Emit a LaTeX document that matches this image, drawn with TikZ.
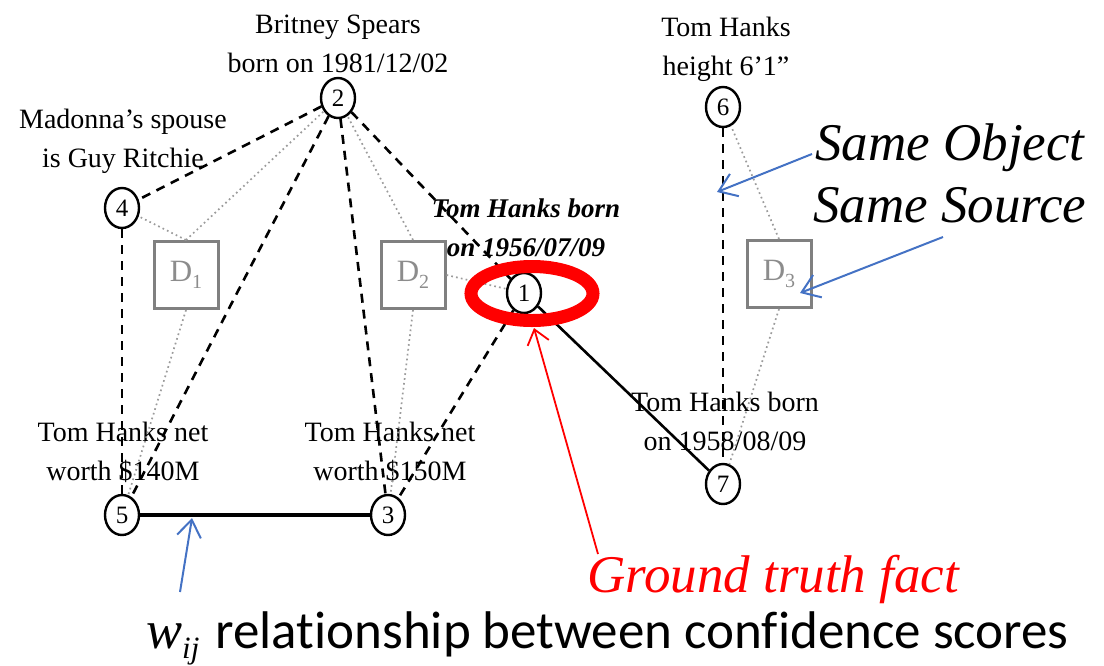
\documentclass[tikz,border=0pt]{standalone}
\usepackage{fontspec}
\setmainfont{Liberation Serif}
\newfontfamily\calib[Ligatures=NoCommon]{Carlito}
\usetikzlibrary{shapes.geometric,arrows.meta}
\definecolor{srcgray}{RGB}{128,128,128}
\definecolor{dotgray}{RGB}{155,155,155}
\definecolor{dtext}{RGB}{140,140,140}
\definecolor{noteblue}{RGB}{68,114,196}
\definecolor{truthred}{RGB}{255,0,0}
\begin{document}
\begin{tikzpicture}[x=1pt,y=-1pt,
  fact/.style={ellipse,draw,line width=2.4pt,minimum width=34pt,minimum height=40pt,inner sep=0pt,font=\fontsize{25}{25}\selectfont},
  src/.style={rectangle,draw=srcgray,line width=3pt,minimum width=64pt,minimum height=67pt,inner sep=0pt,text=dtext,font=\fontsize{31}{31}\selectfont},
  lbl/.style={align=center,font=\fontsize{28}{38.5}\selectfont,inner sep=0pt,anchor=base},
  rel/.style={line width=2.6pt,dash pattern=on 9pt off 7pt},
  prov/.style={draw=dotgray,line width=1.7pt,dash pattern=on 1.7pt off 3.2pt},
  strong/.style={line width=2.6pt},
  stronger/.style={line width=3.6pt},
  note/.style={draw=noteblue,line width=2pt,-{Straight Barb[length=17pt,width=24pt,line width=2pt]}},
  truth/.style={draw=truthred,line width=1.8pt,-{Straight Barb[length=14pt,width=22pt,line width=1.8pt]}},
  bigit/.style={font=\fontsize{53}{53}\selectfont\itshape,inner sep=0pt,anchor=base west}
]
\useasboundingbox (0,0) rectangle (1104,665);

% fact nodes
\node[fact] (n2) at (338,98) {2};
\node[fact] (n4) at (122,208) {4};
\node[fact] (n1) at (524,293) {1};
\node[fact] (n6) at (723,107) {6};
\node[fact] (n7) at (723,484) {7};
\node[fact] (n5) at (122,515) {5};
\node[fact] (n3) at (388,515) {3};

% source boxes
\node[src] (d1) at (186,275) {D\raisebox{-7pt}{\fontsize{20}{20}\selectfont 1}};
\node[src] (d2) at (413,275) {D\raisebox{-7pt}{\fontsize{20}{20}\selectfont 2}};
\node[src] (d3) at (779,274) {D\raisebox{-7pt}{\fontsize{20}{20}\selectfont 3}};

% labels (anchor = baseline of the last line)
\node[lbl] (l2) at (338,72) {Britney Spears\\born on 1981/12/02};
\node[lbl] (l4) at (123,167) {Madonna’s spouse\\is Guy Ritchie};
\node[lbl,font=\fontsize{27}{38.5}\selectfont\bfseries\itshape] (l1) at (526,256) {Tom Hanks born\\on 1956/07/09};
\node[lbl] (l6) at (726,75) {Tom Hanks\\height 6’1”};
\node[lbl] (l5) at (123,480) {Tom Hanks net\\worth \$140M};
\node[lbl] (l3) at (390,480) {Tom Hanks net\\worth \$150M};
\node[lbl] (l7) at (725,450) {Tom Hanks born\\on 1958/08/09};

% provenance (dotted) links
\draw[prov] (d1.north) -- (n4);
\draw[prov] (d1.north) -- (n2);
\draw[prov] (d1.south) -- (n5);
\draw[prov] (d2.north) -- (n2);
\draw[prov] (d2.east) -- (n1);
\draw[prov] (d2.south) -- (n3);
\draw[prov] (d3.north) -- (n6);
\draw[prov] (d3.south) -- (n7);

% dashed relations
\draw[rel] (n2) -- (n4);
\draw[rel] (n2) -- (n5);
\draw[rel] (n2) -- (n3);
\draw[rel] (n2) -- (n1);
\draw[rel] (n4) -- (n5);
\draw[rel] (n1) -- (n3);
\draw[rel] (n6) -- (n7);

% solid relations
\draw[strong] (n1) -- (n7);
\draw[stronger] (n5) -- (n3);

% ground truth ellipse
\draw[truthred,line width=13pt] (532,293.5) ellipse [x radius=61,y radius=27];

% annotations
\node[bigit] (so) at (815,160) {Same Object};
\node[bigit] (ss) at (813,222) {Same Source};
\coordinate (soTail) at (812,154);
\coordinate (soTip) at (717,192);
\coordinate (ssTail) at (943,237);
\coordinate (ssTip) at (800,293);
\draw[note] (soTail) -- (soTip);
\draw[note] (ssTail) -- (ssTip);

\node[bigit,text=truthred] (gt) at (587,592) {Ground truth fact};
\coordinate (gtTail) at (598,554);
\coordinate (gtTip) at (534,328);
\draw[truth] (gtTail) -- (gtTip);

\node[inner sep=0pt,anchor=base west] (wij) at (146,648) {\fontsize{54}{54}\selectfont\textit{w}\raisebox{-10pt}{\fontsize{31}{31}\selectfont\textit{ij}}\hspace{16pt}{\calib\fontsize{53}{53}\selectfont relationship between confidence scores}};
\coordinate (wTail) at (180,592);
\coordinate (wTip) at (192,518);
\draw[note] (wTail) -- (wTip);
\end{tikzpicture}
\end{document}
